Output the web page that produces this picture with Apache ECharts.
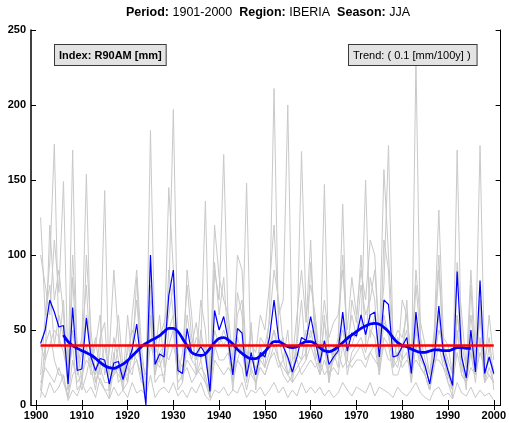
<!DOCTYPE html>
<html>
<head>
<meta charset="utf-8">
<script src="https://cdn.jsdelivr.net/npm/echarts@6/dist/echarts.min.js"></script>
<style>html,body{margin:0;padding:0;background:#fff}#c{width:509px;height:423px}</style>
</head>
<body>
<div id="c"></div>
<script>
const startYear = 1901;
const xTicks = [1900,1910,1920,1930,1940,1950,1960,1970,1980,1990,2000];
const yTicks = [0,50,100,150,200,250];

const regional = [41,50,70,62,52,53,14,65,23,24, 58,32,23,31,30,14,28,29,17,28,
  37,54,26,0,100,27,34,32,73,90, 23,21,51,35,34,39,34,9,63,50,
  59,43,20,51,48,19,35,20,35,32, 45,70,44,39,32,22,32,45,43,59,
  43,28,43,27,32,36,62,36,48,46, 60,47,60,62,32,70,67,32,33,39,
  45,21,62,34,26,14,32,66,34,23, 13,89,32,18,50,22,83,21,32,21];

const smoothStart = 1906;
const smoothVals = [46.7,42.2,39.6,37.8,36.2, 34.9,33.3,31.1,28.4,26.2,24.9,24.4,25.6,27.3,29.6,
  32.7,35.6,38.9,41.1,42.9,44.4,46.2,48.9,51.1,51.1, 48.9,44.4,39.5,35,33.5,33,34,37.8,41.6,44.4,
  44.9,43.3,40.7,37.1,34.4,32.2,30.9,30.9,32.7,35.6, 39.3,42.2,42.2,40.7,38.9,38.2,38.9,40.7,42.2,42.2,
  40.7,38.2,36.2,35.6,36.7,39,41.6,44.4,46.7,48.9, 51.1,52.7,54,54.4,53.8,51.8,48.9,44.9,41.6,39.6,
  38.9,37.3,36,35.1,35.1,36,36.7,36.7,36.2,36.2, 37.1,38.2,38.2,37.8,37.8];

const trendYears = [1901, 2000];
const trendVals = [39.6, 39.7];

const station1 = [125,60,95,174,40,70,10,85,30,45, 80,25,40,60,20,35,90,45,15,60, 30,85,20,5,183,35,60,25,90,60,
  20,35,80,45,30,70,50,10,95,60, 85,40,15,75,60,20,55,10,40,25, 60,211,45,30,50,15,40,70,30,95,
  50,20,60,15,40,35,134,30,70,55, 100,40,85,70,20,110,90,25,45,30, 70,15,230,40,20,10,45,100,35,15,
  5,170,30,10,80,20,70,15,40,10];
const station2 = [100,80,60,110,75,149,20,100,40,15, 100,50,20,45,55,10,30,60,25,15, 60,90,40,12,70,20,45,55,70,197,
  35,15,90,60,20,50,30,15,120,85, 70,60,30,100,90,25,40,35,60,50, 80,120,60,70,200,30,60,90,55,110,
  30,40,70,45,55,60,90,50,85,60, 90,70,110,100,40,157,100,45,30,70, 60,30,90,55,40,20,50,130,45,40,
  20,95,60,25,90,35,173,25,60,30];
const station3 = [40,30,120,70,90,60,15,170,20,35, 60,40,15,25,40,20,45,30,10,40, 40,70,30,3,60,40,30,40,145,90,
  25,20,60,40,55,30,40,5,90,70, 167,50,20,60,70,30,50,20,45,40, 55,90,70,40,30,20,45,169,60,80,
  60,30,55,40,30,45,100,40,60,45, 80,60,70,90,45,80,173,40,50,45, 60,25,80,45,30,20,40,90,40,30,
  20,60,40,25,60,30,60,30,45,20];
const station4 = [20,60,80,40,60,45,10,50,25,40, 154,30,45,20,30,15,20,40,20,35, 50,40,30,20,60,20,35,40,60,80,
  30,25,40,30,45,40,136,10,40,45, 40,45,25,40,35,20,30,25,30,35, 40,50,40,45,20,30,35,30,50,45,
  55,25,147,20,30,40,50,35,40,50, 50,150,45,60,30,60,45,30,25,40, 40,20,50,30,25,15,30,50,40,25,
  15,60,30,20,40,20,70,20,30,25];
const station5 = [10,40,50,30,20,20,5,30,15,20, 30,25,10,35,143,5,25,20,15,25, 20,40,25,8,60,15,20,20,40,50,
  15,20,30,25,20,25,20,5,40,30, 30,35,15,30,25,10,25,15,25,20, 30,40,30,25,20,15,20,25,30,40,
  30,20,30,20,25,20,40,25,30,35, 40,30,35,40,20,45,40,20,20,30, 35,15,40,25,20,10,25,40,25,15,
  10,50,20,15,35,15,45,15,20,15];
const station6 = [5,30,40,50,45,35,20,40,10,15, 40,20,25,15,10,10,35,15,20,20, 25,30,20,2,80,25,30,15,50,60,
  10,15,40,30,25,20,15,10,50,40, 50,40,10,45,35,148,20,15,30,25, 35,50,30,20,15,20,25,30,35,50,
  35,25,40,15,35,25,60,20,35,40, 45,35,50,45,25,55,50,25,30,40, 50,20,55,30,25,15,30,60,30,20,
  10,50,25,15,45,20,60,15,25,15];
const station7 = [15,25,20,15,25,15,5,20,25,10, 20,35,15,25,15,15,20,25,10,15, 35,30,15,15,40,30,25,35,30,40,
  25,20,25,15,20,30,15,5,30,25, 20,25,20,30,40,15,35,20,25,20, 30,35,25,30,20,25,30,20,25,30,
  25,30,20,25,30,35,25,30,25,30, 30,25,35,30,25,40,30,30,35,25, 30,25,30,25,20,10,30,30,25,20,
  15,35,20,15,25,20,35,25,20,15];
const station8 = [10,5,15,8,12,20,3,10,6,15, 8,12,5,18,10,4,12,6,10,5, 15,8,10,6,20,5,10,12,8,15,
  6,10,5,12,8,15,6,3,10,8, 12,6,10,8,15,5,10,8,12,6, 10,15,8,12,5,10,6,15,8,12,
  8,12,6,10,5,8,15,10,6,12, 10,8,15,6,12,10,8,5,12,8, 6,10,15,8,5,3,10,12,6,8,
  4,15,8,6,12,5,10,6,8,3];
const stations = [station1,station2,station3,station4,station5,station6,station7,station8];

const pairs = (arr, y0) => arr.map((v, i) => [y0 + i, v]);

const chart = echarts.init(document.getElementById('c'), null, {renderer: 'canvas'});
const FONT = 'Liberation Sans, Arial, Helvetica, sans-serif';

const series = [];
stations.forEach(s => series.push({
  type: 'line', data: pairs(s, startYear), showSymbol: false, silent: true,
  lineStyle: {color: '#c9c9c9', width: 1}, z: 1
}));
series.push({type: 'line', data: pairs(regional, startYear), showSymbol: false, silent: true,
  lineStyle: {color: '#0000ff', width: 1.2}, z: 3});
series.push({type: 'line', data: pairs(smoothVals, smoothStart), showSymbol: false, silent: true, smooth: 0.4,
  lineStyle: {color: '#0000ff', width: 2.8}, z: 4});
series.push({type: 'line', data: trendYears.map((y, i) => [y, trendVals[i]]), showSymbol: false, silent: true,
  lineStyle: {color: '#ff0000', width: 2.5}, z: 5});

const axisLine = {show: true, lineStyle: {color: '#000', width: 1}};
const plain = v => String(Math.round(v));
chart.setOption({
  animation: false,
  backgroundColor: '#fff',
  grid: {left: 31, right: 4, top: 30, bottom: 18, containLabel: false},
  xAxis: [{
    type: 'value', min: 1898.9, max: 2001.5, position: 'bottom',
    axisLine: axisLine,
    axisTick: {show: true, inside: true, length: 5, customValues: xTicks, lineStyle: {color: '#000'}},
    axisLabel: {show: true, customValues: xTicks, formatter: plain, margin: 5, color: '#000', fontWeight: 'bold', fontSize: 11, fontFamily: FONT},
    splitLine: {show: false}
  }, {
    type: 'value', min: 1898.9, max: 2001.5, position: 'top',
    axisLine: axisLine,
    axisTick: {show: true, inside: true, length: 5, customValues: xTicks, lineStyle: {color: '#000'}},
    axisLabel: {show: false},
    splitLine: {show: false}
  }],
  yAxis: [{
    type: 'value', min: 0, max: 250, interval: 50, position: 'left',
    axisLine: {show: true, lineStyle: {color: '#000', width: 1.5}},
    axisTick: {show: true, inside: true, length: 5, lineStyle: {color: '#000'}},
    axisLabel: {show: true, formatter: plain, margin: 5, color: '#000', fontWeight: 'bold', fontSize: 11, fontFamily: FONT},
    splitLine: {show: false}
  }, {
    type: 'value', min: 0, max: 250, interval: 50, position: 'right',
    axisLine: axisLine,
    axisTick: {show: true, inside: true, length: 5, lineStyle: {color: '#000'}},
    axisLabel: {show: false},
    splitLine: {show: false}
  }],
  graphic: [{
    type: 'text', x: 268, y: 13, silent: true,
    style: {
      text: '{b|Period:} 1901-2000  {b|Region:} IBERIA  {b|Season:} JJA',
      align: 'center', verticalAlign: 'middle',
      font: '12.5px ' + FONT, fill: '#000',
      rich: {b: {fontWeight: 'bold', fontSize: 12.5, fontFamily: FONT, fill: '#000'}}
    }
  }, {
    type: 'text', x: 55, y: 45, silent: true, z: 10,
    style: {
      text: 'Index: R90AM [mm]', font: 'bold 11px ' + FONT, fill: '#000',
      backgroundColor: '#e3e3e3', borderColor: '#3a3a3a', borderWidth: 1,
      padding: [5, 4, 4, 4]
    }
  }, {
    type: 'text', x: 349, y: 45, silent: true, z: 10,
    style: {
      text: 'Trend: ( 0.1 [mm/100y] )', font: '11px ' + FONT, fill: '#000',
      backgroundColor: '#e3e3e3', borderColor: '#3a3a3a', borderWidth: 1,
      padding: [5, 6, 4, 4]
    }
  }],
  series: series
});
</script>
</body>
</html>
